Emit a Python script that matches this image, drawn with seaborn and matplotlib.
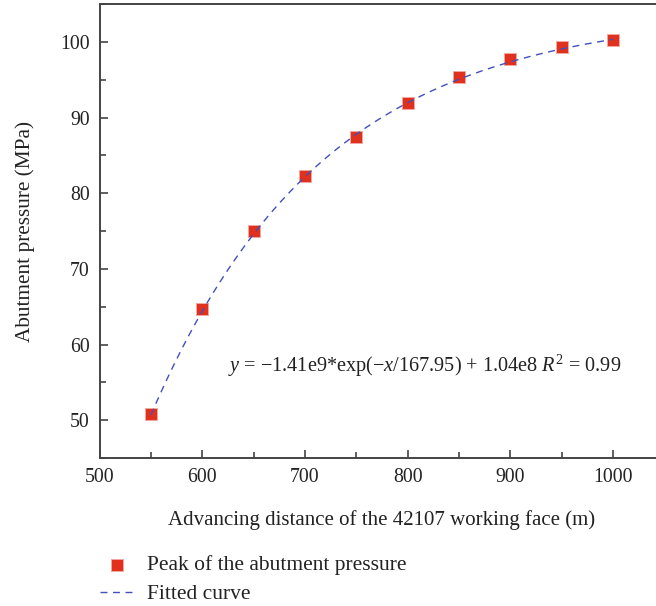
import numpy as np
import pandas as pd
import seaborn as sns
import matplotlib.pyplot as plt
from matplotlib.ticker import MultipleLocator

distance = [550, 600, 650, 700, 750, 800, 850, 900, 950, 1000]
peak_pressure = [50.8, 64.7, 75.0, 82.3, 87.5, 91.9, 95.4, 97.8, 99.3, 100.2]

# fitted curve parameters (Pa in the label -> MPa here)
fit_a = 1.41e9 / 1e6
fit_t = 167.95
fit_c = 1.04e8 / 1e6

sns.set_theme(style="ticks")
plt.rcParams['font.family'] = ['Liberation Serif', 'DejaVu Serif']
plt.rcParams['mathtext.fontset'] = 'custom'
plt.rcParams['mathtext.rm'] = 'Liberation Serif'
plt.rcParams['mathtext.it'] = 'Liberation Serif:italic'

df = pd.DataFrame({"x": distance, "y": peak_pressure})
xs = np.linspace(min(distance), max(distance), 300)
fit_df = pd.DataFrame({"x": xs, "y": fit_c - fit_a * np.exp(-xs / fit_t)})

fig = plt.figure(figsize=(6.56, 6.06), dpi=100)
# axes runs a bit past the right edge of the picture, as in the original
ax = fig.add_axes([0.1517, 0.2442, 0.861, 0.749])

sns.lineplot(data=fit_df, x="x", y="y", ax=ax, color="#4250bc", lw=1.0,
             linestyle=(0, (5, 4)), label="Fitted curve", zorder=3)
sns.scatterplot(data=df, x="x", y="y", ax=ax, marker="s", s=70, color="#e0301e",
                edgecolor="#f2a8a0", linewidth=0.7, label="Peak of the abutment pressure", zorder=2)

ax.set_xlim(500, 1050)
ax.set_ylim(45, 105)
ax.xaxis.set_major_locator(MultipleLocator(100))
ax.xaxis.set_minor_locator(MultipleLocator(50))
ax.yaxis.set_major_locator(MultipleLocator(10))
ax.yaxis.set_minor_locator(MultipleLocator(5))
ax.tick_params(which="both", direction="in", width=1.2, colors="#444444", labelcolor="#222222",
               labelsize=14.2)
ax.tick_params(which="major", length=6)
ax.tick_params(which="minor", length=4)
ax.tick_params(axis="x", pad=7)
ax.tick_params(axis="y", pad=7)
for s in ax.spines.values():
    s.set_linewidth(1.4)
    s.set_color("#444444")

ax.set_xlabel("Advancing distance of the 42107 working face (m)", fontsize=15.0, labelpad=17,
              color="#222222")
ax.set_ylabel("Abutment pressure (MPa)", fontsize=15.3, labelpad=18, color="#222222")

ax.text(625, 57.2, r"$y$ = $-$1.41e9*exp($-x$/167.95) + 1.04e8 $R^{2}$ = 0.99",
        fontsize=14.6, ha="left", va="center", color="#222222")

handles, labels = ax.get_legend_handles_labels()
leg = ax.legend(handles[::-1], labels[::-1], loc="upper left", bbox_to_anchor=(0.152, 0.084),
                bbox_transform=fig.transFigure, frameon=False, fontsize=15.5,
                handlelength=1.65, handletextpad=0.55, labelspacing=0.43, borderaxespad=0,
                borderpad=0)
for t in leg.get_texts():
    t.set_color("#222222")

plt.savefig("out.png", dpi=100)
